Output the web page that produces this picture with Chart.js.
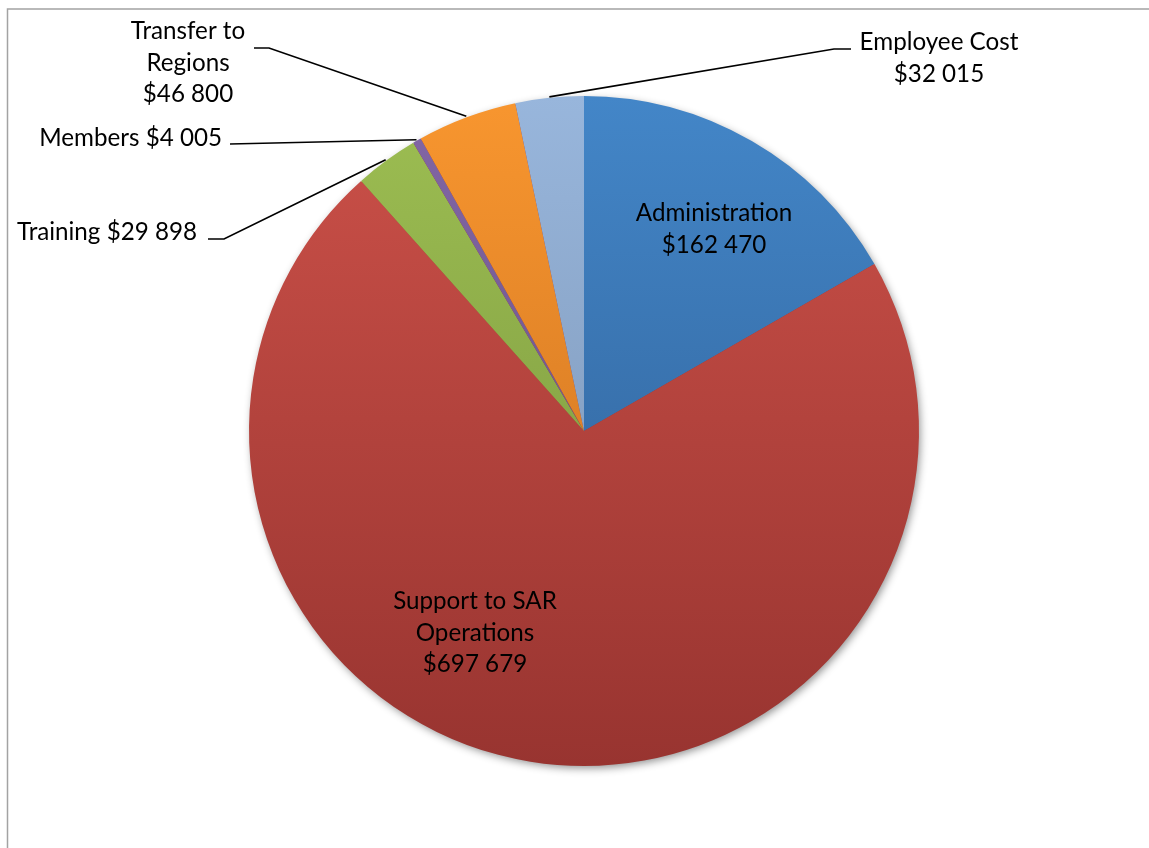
<!DOCTYPE html>
<html>
<head>
<meta charset="utf-8">
<script src="https://cdn.jsdelivr.net/npm/chart.js@4.4.1/dist/chart.umd.min.js"></script>
<style>
html, body { margin: 0; padding: 0; background: #fff; }
canvas { display: block; }
</style>
</head>
<body>
<canvas id="budgetPie" width="1149" height="848"></canvas>
<script>
// budget split by expense category
const categories = ['Administration', 'Support to SAR Operations', 'Training', 'Members', 'Transfer to Regions', 'Employee Cost'];
const amounts = [162470, 697679, 29898, 4005, 46800, 32015];

// slice fills, light at the top of the pie and darker toward the bottom
const topColours = ['#4386c8', '#cc5149', '#9dbe52', '#8367a6', '#f8962f', '#98b6dc'];
const bottomColours = ['#2d5b90', '#983430', '#75913c', '#5e4a7c', '#c46c1e', '#778fae'];

const labelFont = '24.2px Lato';

function money(n) {
    return '$' + String(n).replace(/\B(?=(\d{3})+(?!\d))/g, ' ');
}

// where each label sits; split = words per line of the category name
const placements = [
    {x: 714, y: 221, align: 'center', split: [1]},
    {x: 475, y: 609, align: 'center', split: [3, 1]},
    {x: 197, y: 240, align: 'right', inline: true, leader: [[208, 239], [224, 239]]},
    {x: 222, y: 146, align: 'right', inline: true, leader: [[230, 144]]},
    {x: 188, y: 39, align: 'center', split: [2, 1], leader: [[254, 48], [269, 48]]},
    {x: 939, y: 50, align: 'center', split: [2], leader: [[851, 49], [834, 49]]}
];

function labelLines(i) {
    const p = placements[i];
    if (p.inline) return [categories[i] + ' ' + money(amounts[i])];
    const words = categories[i].split(' ');
    const lines = [];
    let k = 0;
    p.split.forEach(n => {
        lines.push(words.slice(k, k + n).join(' '));
        k += n;
    });
    lines.push(money(amounts[i]));
    return lines;
}

function sliceFill(context) {
    const i = context.dataIndex;
    const area = context.chart.chartArea;
    if (!area) return topColours[i];
    const g = context.chart.ctx.createLinearGradient(0, area.top, 0, area.bottom);
    g.addColorStop(0, topColours[i]);
    g.addColorStop(1, bottomColours[i]);
    return g;
}

const framePlugin = {
    id: 'frame',
    beforeDraw(chart) {
        const ctx = chart.ctx;
        ctx.save();
        ctx.strokeStyle = '#a3a3a3';
        ctx.lineWidth = 1.5;
        ctx.strokeRect(7.5, 9, chart.width + 20, chart.height + 20);
        ctx.restore();
    },
    beforeDatasetsDraw(chart) {
        // soft drop shadow under the whole pie
        const arc = chart.getDatasetMeta(0).data[0];
        if (!arc) return;
        const ctx = chart.ctx;
        ctx.save();
        ctx.shadowColor = 'rgba(0, 0, 0, 0.45)';
        ctx.shadowBlur = 9;
        ctx.shadowOffsetX = 2;
        ctx.shadowOffsetY = 3;
        ctx.fillStyle = '#9a3530';
        ctx.beginPath();
        ctx.arc(arc.x, arc.y, arc.outerRadius - 1, 0, Math.PI * 2);
        ctx.fill();
        ctx.restore();
    }
};

const labelPlugin = {
    id: 'sliceLabels',
    afterDatasetsDraw(chart) {
        const ctx = chart.ctx;
        const arcs = chart.getDatasetMeta(0).data;
        ctx.save();
        ctx.font = labelFont;
        ctx.fillStyle = '#000';
        ctx.strokeStyle = '#000';
        ctx.lineWidth = 1.7;
        ctx.textBaseline = 'alphabetic';
        arcs.forEach((arc, i) => {
            const p = placements[i];
            ctx.textAlign = p.align;
            labelLines(i).forEach((line, n) => {
                ctx.fillText(line, p.x, p.y + n * 31.7);
            });
            if (p.leader) {
                const mid = (arc.startAngle + arc.endAngle) / 2;
                const r = arc.outerRadius + 1;
                ctx.beginPath();
                ctx.moveTo(p.leader[0][0], p.leader[0][1]);
                p.leader.slice(1).forEach(pt => ctx.lineTo(pt[0], pt[1]));
                ctx.lineTo(arc.x + r * Math.cos(mid), arc.y + r * Math.sin(mid));
                ctx.stroke();
            }
        });
        ctx.restore();
    }
};

new Chart('budgetPie', {
    type: 'pie',
    data: {
        labels: categories,
        datasets: [{
            data: amounts,
            backgroundColor: sliceFill,
            borderWidth: 0
        }]
    },
    options: {
        responsive: false,
        animation: false,
        layout: {
            padding: {left: 249, right: 230, top: 96, bottom: 82}
        },
        plugins: {
            legend: {display: false},
            tooltip: {enabled: false}
        }
    },
    plugins: [framePlugin, labelPlugin]
});
</script>
</body>
</html>
